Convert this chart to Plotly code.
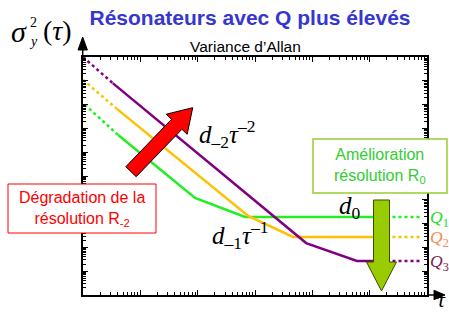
import plotly.graph_objects as go
import math

# ---------------- data ----------------
# Q1 (green)
q1_dot_tau = [1.07, 4.1]
q1_dot_val = [1.0e8, 5.3e6]
q1_tau = [4.1, 90, 670, 2.2e5]
q1_val = [5.3e6, 1.2e4, 1.9e3, 1.9e3]
q1_tail_tau = [2.5e5, 7.6e5]
q1_tail_val = [1.9e3, 1.9e3]
# Q2 (orange)
q2_dot_tau = [1.0, 3.9]
q2_dot_val = [1.1e9, 6.6e7]
q2_tau = [3.9, 760, 4.6e3, 2.2e5]
q2_val = [6.6e7, 2.1e3, 275, 275]
q2_tail_tau = [2.5e5, 7.6e5]
q2_tail_val = [275, 275]
# Q3 (purple)
q3_dot_tau = [1.0, 3.3]
q3_dot_val = [1.0e10, 8.0e8]
q3_tau = [3.3, 7.8e3, 6.0e4, 2.2e5]
q3_val = [8.0e8, 152, 27, 27]
q3_tail_tau = [2.5e5, 7.6e5]
q3_tail_val = [27, 27]

series_colors = ["#22EE22", "#FFC000", "#800080"]
label_colors = ["#22DD22", "#F58B4C", "#7B2150"]
q_labels = ["<i>Q</i><sub>1</sub>", "<i>Q</i><sub>2</sub>", "<i>Q</i><sub>3</sub>"]

W, H = 449, 314
L, R, T, B = 83, 427, 57, 295


def PX(x):
    return (x - L) / (R - L)


def PY(y):
    return (B - y) / (B - T)


fig = go.Figure()
groups = [
    (q1_dot_tau, q1_dot_val, q1_tau, q1_val, q1_tail_tau, q1_tail_val),
    (q2_dot_tau, q2_dot_val, q2_tau, q2_val, q2_tail_tau, q2_tail_val),
    (q3_dot_tau, q3_dot_val, q3_tau, q3_val, q3_tail_tau, q3_tail_val),
]
for (dt, dv, st, sv, tt, tv), c in zip(groups, series_colors):
    fig.add_trace(go.Scatter(x=dt, y=dv, mode="lines", line=dict(color=c, width=2.5, dash="dot"),
                             hoverinfo="skip", cliponaxis=False))
    fig.add_trace(go.Scatter(x=st, y=sv, mode="lines", line=dict(color=c, width=2.5),
                             hoverinfo="skip"))
    fig.add_trace(go.Scatter(x=tt, y=tv, mode="lines", line=dict(color=c, width=2.5, dash="dot"),
                             hoverinfo="skip", cliponaxis=False))

axis_common = dict(
    type="log", showline=True, linecolor="black", linewidth=1.5, mirror="ticks",
    ticks="inside", ticklen=5, tickwidth=1, tickcolor="black", dtick=1,
    showticklabels=False, showgrid=False, zeroline=False,
    minor=dict(ticks="inside", ticklen=3, tickwidth=1, tickcolor="black", showgrid=False),
)
fig.update_xaxes(range=[0, 6], **axis_common)
fig.update_yaxes(range=[0, 10], **axis_common)

shapes = []


def poly(pts, fill, line, width=1):
    path = "M " + " L ".join(f"{PX(x):.5f},{PY(y):.5f}" for x, y in pts) + " Z"
    shapes.append(dict(type="path", xref="paper", yref="paper", path=path,
                       fillcolor=fill, line=dict(color=line, width=width), layer="above"))


def rect(x0, y0, x1, y1, line, width=1):
    shapes.append(dict(type="rect", xref="paper", yref="paper", x0=PX(x0), x1=PX(x1),
                       y0=PY(y1), y1=PY(y0), fillcolor="white",
                       line=dict(color=line, width=width), layer="above"))


# red arrow (decoration)
tip = (192.7, 107.7)
tail = (131.0, 171.7)
dx, dy = tip[0] - tail[0], tip[1] - tail[1]
ln = math.hypot(dx, dy)
ux, uy = dx / ln, dy / ln
nx, ny = -uy, ux
hl, bw, hw = 23, 7.2, 14.5
neck = (tip[0] - ux * hl, tip[1] - uy * hl)
pts = [
    (tail[0] - nx * bw, tail[1] - ny * bw),
    (neck[0] - nx * bw, neck[1] - ny * bw),
    (neck[0] - nx * hw, neck[1] - ny * hw),
    tip,
    (neck[0] + nx * hw, neck[1] + ny * hw),
    (neck[0] + nx * bw, neck[1] + ny * bw),
    (tail[0] + nx * bw, tail[1] + ny * bw),
]
poly(pts, "#FF0000", "black", 1)

# green arrow (decoration)
gx, gbw, ghw = 381.5, 8, 15
poly([(gx - gbw, 200), (gx + gbw, 200), (gx + gbw, 262), (gx + ghw, 262), (gx, 291),
      (gx - ghw, 262), (gx - gbw, 262)], "#99CC00", "#3F4A00", 1)

# text boxes
rect(313, 139, 447, 193, "#99CC33", 1.5)
rect(8, 184, 156, 233, "#FF0000", 1)

# axis arrows
poly([(82.7, 37), (78, 50), (87.4, 50)], "black", "black", 1)
shapes.append(dict(type="line", xref="paper", yref="paper", x0=PX(82.7), x1=PX(82.7),
                   y0=PY(57), y1=PY(49), line=dict(color="black", width=1.5)))
poly([(445, 295), (434, 290.3), (434, 299.7)], "black", "black", 1)
shapes.append(dict(type="line", xref="paper", yref="paper", x0=PX(427), x1=PX(435),
                   y0=PY(295), y1=PY(295), line=dict(color="black", width=1.5)))

fig.update_layout(shapes=shapes)

SERIF = "Liberation Serif, Times New Roman, serif"
SANS = "Arial, Liberation Sans, sans-serif"
anns = []


def ann(text, x, y, size, color="black", family=SERIF, xanchor="center", yanchor="middle"):
    anns.append(dict(text=text, x=PX(x), y=PY(y), xref="paper", yref="paper", showarrow=False,
                     xanchor=xanchor, yanchor=yanchor,
                     font=dict(size=size, color=color, family=family)))


ann("Variance d’Allan", 245, 47, 15.5, "black", SANS)
ann("Amélioration<br>résolution R<sub>0</sub>", 380, 166, 16, "#33CC33", SANS)
ann("Dégradation de la<br>résolution R<sub>-2</sub>", 82, 209, 16, "#FF0000", SANS)
ann("<i>d</i><sub>–2</sub><i>τ</i><sup>–2</sup>", 227, 134, 25)
ann("<i>d</i><sub>–1</sub><i>τ</i><sup>–1</sup>", 240, 235, 25)
ann("<i>d</i><sub>0</sub>", 350, 207, 25)
for lab, col, yy in zip(q_labels, label_colors, [218, 238, 262]):
    ann(lab, 428, yy, 17.5, col, SERIF, xanchor="left")
ann("<i>τ</i>", 441, 313.5, 22, yanchor="bottom")
ann("<i>σ</i>", 19, 32, 30)
ann("2", 33, 22, 14)
ann("<i>y</i>", 33, 41, 14)
ann("(<i>τ</i>)", 57, 31, 28)

fig.update_layout(
    annotations=anns,
    width=W, height=H,
    margin=dict(l=L, r=W - R, t=T, b=H - B),
    paper_bgcolor="white", plot_bgcolor="white", showlegend=False,
    title=dict(text="<b>Résonateurs avec Q plus élevés</b>", x=250 / W, y=1 - 18 / H,
               xanchor="center", yanchor="middle", xref="container", yref="container",
               font=dict(size=21, color="#3636D0", family=SANS)),
)

fig.write_html("out.html", config={"displayModeBar": False},
               post_script="document.body.style.margin='0px';")
